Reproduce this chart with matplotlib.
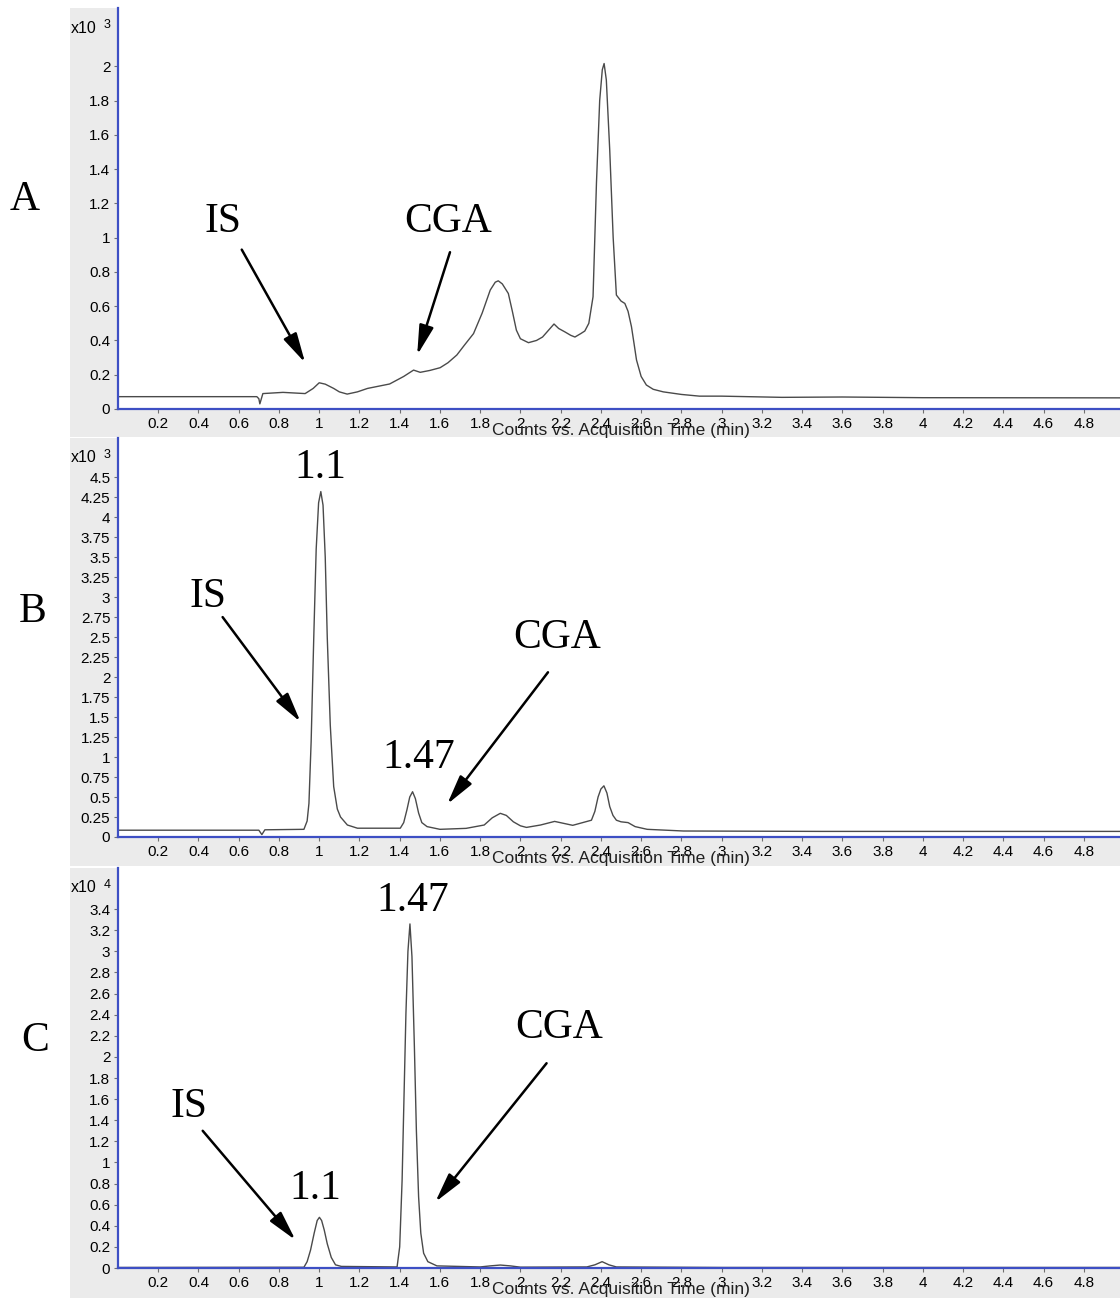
import matplotlib
matplotlib.use("Agg")
import matplotlib.pyplot as plt
from matplotlib.patches import Rectangle

# ---- data ----
# panel A: counts x10^3
time_a = [0.0, 0.69, 0.70, 0.705, 0.72, 0.82, 0.93, 0.97, 1.0, 1.03, 1.072, 1.10, 1.139,
          1.19, 1.24, 1.35, 1.42, 1.469, 1.502, 1.55, 1.601, 1.64, 1.684, 1.72, 1.767,
          1.81, 1.85, 1.875, 1.89, 1.91, 1.94, 1.96, 1.98, 2.0, 2.04, 2.08, 2.11, 2.14,
          2.167, 2.19, 2.221, 2.25, 2.271, 2.30, 2.32, 2.34, 2.361, 2.378, 2.394, 2.407,
          2.416, 2.427, 2.444, 2.461, 2.477, 2.50, 2.519, 2.535, 2.552, 2.565, 2.577,
          2.60, 2.626, 2.66, 2.71, 2.80, 2.89, 3.0, 3.3, 3.6, 4.0, 4.98]
counts_a = [0.072, 0.072, 0.06, 0.03, 0.09, 0.097, 0.09, 0.12, 0.153, 0.145, 0.12, 0.10, 0.087,
            0.10, 0.12, 0.146, 0.19, 0.227, 0.214, 0.225, 0.241, 0.27, 0.315, 0.37, 0.44,
            0.56, 0.694, 0.74, 0.748, 0.73, 0.674, 0.57, 0.46, 0.41, 0.387, 0.40, 0.42, 0.46,
            0.496, 0.47, 0.45, 0.43, 0.42, 0.44, 0.455, 0.50, 0.655, 1.32, 1.80, 1.98,
            2.016, 1.92, 1.51, 1.0, 0.665, 0.63, 0.616, 0.57, 0.48, 0.38, 0.286,
            0.19, 0.14, 0.115, 0.10, 0.085, 0.075, 0.075, 0.068, 0.07, 0.066, 0.065]

# panel B: counts x10^3
time_b = [0.0, 0.70, 0.715, 0.73, 0.924, 0.94, 0.949, 0.96, 0.973, 0.985, 0.997, 1.008,
          1.019, 1.03, 1.04, 1.055, 1.072, 1.09, 1.106, 1.14, 1.19, 1.403, 1.42, 1.436,
          1.45, 1.464, 1.478, 1.494, 1.51, 1.536, 1.60, 1.73, 1.82, 1.86, 1.90, 1.93,
          1.965, 2.0, 2.03, 2.10, 2.17, 2.26, 2.353, 2.37, 2.386, 2.40, 2.415, 2.43,
          2.444, 2.46, 2.477, 2.50, 2.535, 2.57, 2.63, 2.81, 3.5, 4.98]
counts_b = [0.085, 0.085, 0.03, 0.09, 0.096, 0.2, 0.42, 1.2, 2.5, 3.6, 4.18, 4.32,
            4.15, 3.5, 2.5, 1.4, 0.63, 0.35, 0.25, 0.15, 0.11, 0.11, 0.18, 0.34,
            0.50, 0.566, 0.48, 0.30, 0.18, 0.13, 0.096, 0.108, 0.15, 0.24, 0.296, 0.27,
            0.19, 0.14, 0.12, 0.15, 0.195, 0.146, 0.21, 0.32, 0.50, 0.60, 0.64, 0.55,
            0.38, 0.27, 0.21, 0.19, 0.18, 0.13, 0.096, 0.075, 0.07, 0.07]

# panel C: counts x10^4
time_c = [0.0, 0.924, 0.94, 0.957, 0.975, 0.99, 1.001, 1.012, 1.025, 1.04, 1.06, 1.081,
          1.11, 1.387, 1.40, 1.412, 1.42, 1.431, 1.441, 1.451, 1.461, 1.473, 1.483,
          1.494, 1.505, 1.519, 1.54, 1.585, 1.80, 1.85, 1.90, 1.95, 2.0, 2.33, 2.37,
          2.406, 2.44, 2.477, 3.0, 4.98]
counts_c = [0.005, 0.007, 0.06, 0.17, 0.33, 0.45, 0.48, 0.45, 0.36, 0.23, 0.10, 0.03,
            0.015, 0.01, 0.2, 0.83, 1.5, 2.41, 3.0, 3.26, 2.95, 2.10, 1.3,
            0.675, 0.33, 0.14, 0.06, 0.02, 0.01, 0.02, 0.028, 0.02, 0.008, 0.01, 0.03,
            0.06, 0.03, 0.01, 0.005, 0.005]

panel_letters = ["A", "B", "C"]
exponents = ["3", "3", "4"]
yticks_a = [0, 0.2, 0.4, 0.6, 0.8, 1, 1.2, 1.4, 1.6, 1.8, 2]
yticks_b = [0, 0.25, 0.5, 0.75, 1, 1.25, 1.5, 1.75, 2, 2.25, 2.5, 2.75, 3, 3.25,
            3.5, 3.75, 4, 4.25, 4.5]
yticks_c = [0, 0.2, 0.4, 0.6, 0.8, 1, 1.2, 1.4, 1.6, 1.8, 2, 2.2, 2.4, 2.6, 2.8,
            3, 3.2, 3.4]
xticks = [0.2, 0.4, 0.6, 0.8, 1, 1.2, 1.4, 1.6, 1.8, 2, 2.2, 2.4, 2.6, 2.8, 3,
          3.2, 3.4, 3.6, 3.8, 4, 4.2, 4.4, 4.6, 4.8]

W, H = 1120, 1298
fig = plt.figure(figsize=(W / 100, H / 100), dpi=100)

sans = "Liberation Sans"
serif = "Liberation Serif"
blue = "#3d4fc4"
grey_bg = "#ebebeb"


def fig_box(x0, y0, x1, y1):
    # pixel box (top-left origin) -> figure fraction rect
    return [x0 / W, 1 - y1 / H, (x1 - x0) / W, (y1 - y0) / H]


def setup(ax_px, grey_px, times, counts, yticks, ylim, exp):
    gx = fig_box(*grey_px)
    rect = Rectangle((gx[0], gx[1]), gx[2], gx[3], transform=fig.transFigure,
                     facecolor=grey_bg, edgecolor="none", zorder=0)
    fig.add_artist(rect)
    ax = fig.add_axes(fig_box(*ax_px))
    ax.set_facecolor("white")
    ax.plot(times, counts, color="#4a4a4a", lw=1.0)
    ax.set_xlim(0, 4.98)
    ax.set_ylim(0, ylim)
    ax.set_xticks(xticks)
    ax.set_xticklabels([f"{t:g}" for t in xticks], fontfamily=sans, fontsize=11)
    ax.set_yticks(yticks)
    ax.set_yticklabels([f"{t:g}" for t in yticks], fontfamily=sans, fontsize=11)
    ax.tick_params(length=3, width=0.8, color="#707070", pad=2.5)
    for s in ["top", "right"]:
        ax.spines[s].set_visible(False)
    for s in ["left", "bottom"]:
        ax.spines[s].set_color(blue)
        ax.spines[s].set_linewidth(1.6)
    ax.text(2.5, -0.053, "Counts vs. Acquisition Time (min)", transform=ax.get_xaxis_transform(),
            ha="center", va="center", fontfamily=sans, fontsize=12.5, color="#202020")
    t1 = ax.text(-0.021, 0.95, "x10", transform=ax.transAxes, ha="right", va="center",
                 fontfamily=sans, fontsize=11.5)
    t1.set_clip_path(rect)
    ax.text(-0.011, 0.957, exp, transform=ax.transAxes, ha="center", va="center",
            fontfamily=sans, fontsize=9)
    return ax


ax_a = setup((118, 8, 1120, 409), (70, 8, 1120, 437), time_a, counts_a, yticks_a, 2.34, exponents[0])
ax_b = setup((118, 438, 1120, 837), (70, 438, 1120, 866), time_b, counts_b, yticks_b, 4.99, exponents[1])
ax_c = setup((118, 868, 1120, 1268), (70, 868, 1120, 1298), time_c, counts_c, yticks_c, 3.79, exponents[2])

lbl = dict(fontfamily=serif, fontsize=30, ha="center", va="center")
arr = dict(arrowstyle="-|>,head_length=0.9,head_width=0.22", color="black", lw=1.8,
           shrinkA=0, shrinkB=0, mutation_scale=20)

# panel A annotations
ax_a.text(0.52, 1.09, "IS", **lbl)
ax_a.annotate("", xy=(0.93, 0.27), xytext=(0.615, 0.93), arrowprops=arr)
ax_a.text(1.64, 1.09, "CGA", **lbl)
ax_a.annotate("", xy=(1.487, 0.315), xytext=(1.65, 0.915), arrowprops=arr)

# panel B annotations
ax_b.text(1.006, 4.62, "1.1", **lbl)
ax_b.text(0.446, 3.0, "IS", **lbl)
ax_b.annotate("", xy=(0.907, 1.44), xytext=(0.52, 2.75), arrowprops=arr)
ax_b.text(1.497, 0.99, "1.47", **lbl)
ax_b.text(2.18, 2.49, "CGA", **lbl)
ax_b.annotate("", xy=(1.636, 0.41), xytext=(2.137, 2.06), arrowprops=arr)

# panel C annotations
ax_c.text(1.467, 3.48, "1.47", **lbl)
ax_c.text(2.19, 2.28, "CGA", **lbl)
ax_c.annotate("", xy=(1.577, 0.625), xytext=(2.13, 1.94), arrowprops=arr)
ax_c.text(0.352, 1.53, "IS", **lbl)
ax_c.annotate("", xy=(0.882, 0.265), xytext=(0.421, 1.30), arrowprops=arr)
ax_c.text(0.982, 0.75, "1.1", **lbl)

# panel letters
for letter, (px, py) in zip(panel_letters, [(25, 200), (33, 612), (35, 1041)]):
    fig.text(px / W, 1 - py / H, letter, fontfamily=serif, fontsize=30,
             ha="center", va="center")

fig.savefig("out.png", dpi=100)
